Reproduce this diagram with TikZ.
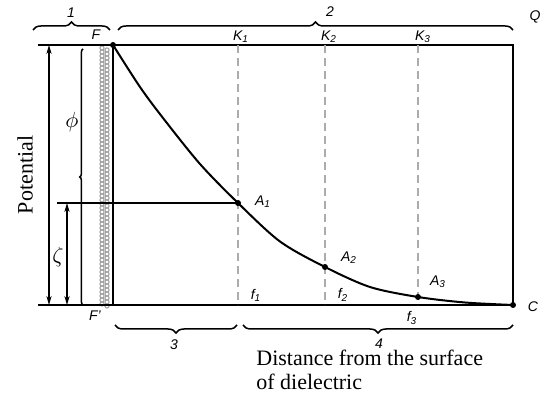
\documentclass[tikz,border=0pt]{standalone}
\usepackage{fontspec}
\setmainfont{Liberation Serif}
\setsansfont{Liberation Sans}
\usetikzlibrary{arrows.meta,decorations.pathreplacing,calc}

\begin{document}
\begin{tikzpicture}[x=0.5pt, y=-0.5pt,
    frame/.style={line width=1.3pt},
    fine/.style={line width=0.75pt},
    guide/.style={gray!65, line width=0.7pt, dash pattern=on 4pt off 2.5pt},
    dim/.style={line width=0.7pt, {Stealth[length=4.5pt,width=2.6pt]}-{Stealth[length=4.5pt,width=2.6pt]}},
    brc/.style={decorate, decoration={brace, amplitude=4pt}, line width=0.75pt},
    lbl/.style={font=\sffamily\itshape\scriptsize, inner sep=1pt},
    dot/.style={circle, fill, inner sep=0pt, minimum size=3pt}
  ]
    \useasboundingbox (0,0) rectangle (545,394);

    % corners and points of the potential curve
    \coordinate (TL) at (38,45);
    \coordinate (BL) at (38,305);
    \coordinate (F) at (113,45);
    \coordinate (Fb) at (113,305);
    \coordinate (Q) at (513,45);
    \coordinate (C) at (513,305);
    \coordinate (A1) at (238,203);
    \coordinate (A2) at (325,267);
    \coordinate (A3) at (418,297);
    \coordinate (K1) at (238,45);
    \coordinate (K2) at (325,45);
    \coordinate (K3) at (418,45);
    \coordinate (f1) at (238,305);
    \coordinate (f2) at (325,305);
    \coordinate (f3) at (418,305);

    % dielectric layer
    \foreach \r in {0,...,64} {
      \draw[gray!75, line width=0.5pt] (102,48+4*\r) circle[radius=1.05pt];
      \draw[gray!75, line width=0.5pt] (107,50+4*\r) circle[radius=1.05pt];
    }

    % frame and wall
    \draw[frame] (TL) -- (Q) -- (C) -- (BL);
    \draw[frame] (F) -- (Fb);

    % dashed verticals
    \draw[guide] (K1) -- (f1);
    \draw[guide] (K2) -- (f2);
    \draw[guide] (K3) -- (f3);

    % level of A1
    \coordinate (Z) at (57,203);
    \draw[line width=0.9pt] (Z) -- (A1);

    % the curve
    \draw[line width=1pt] plot[smooth, tension=0.5] coordinates
      {(F) (140,87) (163,118) (200,164) (A1) (280,241.5) (A2) (370,287) (A3) (465,302.5) (C)};
    \foreach \p in {F,A1,A2,A3,C} \node[dot] at (\p) {};

    % dimensions on the left
    \coordinate (pTop) at (49,45);
    \coordinate (pBot) at (49,305);
    \draw[dim] (pTop) -- (pBot);
    \coordinate (zTop) at (67,203);
    \coordinate (zBot) at (67,305);
    \draw[dim] (zTop) -- (zBot);
    \coordinate (phiTop) at (83,49);
    \coordinate (phiBot) at (83,305);
    \draw[brc, decoration={brace, amplitude=1.6pt}] (phiBot) -- (phiTop);

    \node[rotate=90, font=\fontsize{11}{12}\selectfont] (pot) at (25,175) {Potential};
    \node[font=\fontsize{11}{12}\selectfont] (phi) at (72,122) {$\phi$};
    \node[font=\fontsize{11}{12}\selectfont] (zeta) at (58,257) {$\zeta$};

    % braces
    \coordinate (b1a) at (33,30);
    \coordinate (b1b) at (110,30);
    \coordinate (b2a) at (118,30);
    \coordinate (b2b) at (513,30);
    \coordinate (b3a) at (115,325);
    \coordinate (b3b) at (237,325);
    \coordinate (b4a) at (243,325);
    \coordinate (b4b) at (513,325);
    \draw[brc] (b1a) -- (b1b);
    \draw[brc] (b2a) -- (b2b);
    \draw[brc] (b3b) -- (b3a);
    \draw[brc] (b4b) -- (b4a);

    % labels
    \node[lbl] (n1) at (71,13) {1};
    \node[lbl] (n2) at (330,12) {2};
    \node[lbl] (n3) at (174,345) {3};
    \node[lbl] (n4) at (379,344) {4};
    \node[lbl] (lQ) at (535,17) {Q};
    \node[lbl] (lC) at (533,307) {C};
    \node[lbl] (lF) at (96,35) {F};
    \node[lbl] (lFp) at (95,316) {F'};
    \node[lbl] (lK1) at (241,37) {K\textsubscript{1}};
    \node[lbl] (lK2) at (329,37) {K\textsubscript{2}};
    \node[lbl] (lK3) at (423,37) {K\textsubscript{3}};
    \node[lbl] (lA1) at (263,202) {A\textsubscript{1}};
    \node[lbl] (lA2) at (349,258) {A\textsubscript{2}};
    \node[lbl] (lA3) at (438,282) {A\textsubscript{3}};
    \node[lbl] (lf1) at (256,295) {f\textsubscript{1}};
    \node[lbl] (lf2) at (343,295) {f\textsubscript{2}};
    \node[lbl] (lf3) at (412,318) {f\textsubscript{3}};

    \node[anchor=north west, align=left, inner sep=0pt,
          font=\fontsize{11}{12}\selectfont] (dist) at (256,350)
      {Distance from the surface\\of dielectric};
  \end{tikzpicture}
\end{document}
